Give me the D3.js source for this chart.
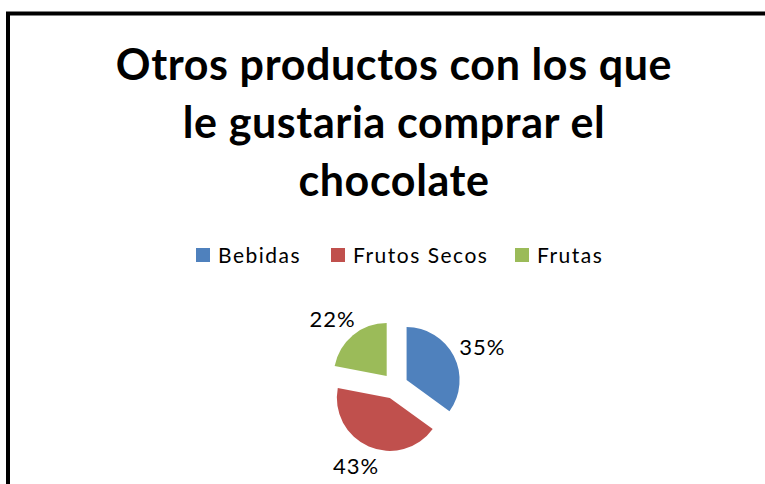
<!DOCTYPE html>
<html>
<head>
<meta charset="utf-8">
<script src="https://cdn.jsdelivr.net/npm/d3@7"></script>
<style>
  html, body { margin: 0; padding: 0; background: #fff; }
  svg { display: block; }
</style>
</head>
<body>
<svg id="chart" width="765" height="484"></svg>
<script>
// Chart data
const titleLines = ["Otros productos con los que", "le gustaria comprar el", "chocolate"];
const categories = ["Bebidas", "Frutos Secos", "Frutas"];
const shares = [35, 43, 22];
const colors = ["#4F81BD", "#C0504D", "#9BBB59"];

const W = 765, H = 484;
const svg = d3.select("#chart");

// Chart area frame (runs off the right and bottom edges)
svg.append("rect")
  .attr("x", 8).attr("y", 13.5)
  .attr("width", W + 20).attr("height", H + 20)
  .attr("fill", "#fff")
  .attr("stroke", "#000")
  .attr("stroke-width", 4);

// Title
const font = "Lato, 'Open Sans', sans-serif";
svg.append("g")
  .selectAll("text")
  .data(titleLines)
  .join("text")
  .attr("x", 394)
  .attr("y", (d, i) => 80 + i * 58)
  .attr("text-anchor", "middle")
  .attr("font-family", font)
  .attr("font-weight", 700)
  .attr("font-size", 43)
  .attr("letter-spacing", 0.6)
  .attr("fill", "#000")
  .text(d => d);

// Legend
const legend = svg.append("g");
const legendX = [196, 331, 515];
const items = legend.selectAll("g")
  .data(categories)
  .join("g")
  .attr("transform", (d, i) => `translate(${legendX[i]},248)`);
items.append("rect")
  .attr("width", 14).attr("height", 14)
  .attr("fill", (d, i) => colors[i]);
items.append("text")
  .attr("x", 22).attr("y", 14.5)
  .attr("font-family", font)
  .attr("font-size", 21)
  .attr("letter-spacing", 1.5)
  .attr("fill", "#000")
  .text(d => d);

// Exploded pie
const cx = 395, cy = 386, r = 53, explode = 13;
const pie = d3.pie().sort(null).startAngle(0).endAngle(2 * Math.PI);
const arcs = pie(shares);
const arc = d3.arc().innerRadius(0).outerRadius(r);

const pieG = svg.append("g").attr("transform", `translate(${cx},${cy})`);
const slice = pieG.selectAll("g.slice")
  .data(arcs)
  .join("g")
  .attr("class", "slice")
  .attr("transform", d => {
    const a = (d.startAngle + d.endAngle) / 2;
    return `translate(${explode * Math.sin(a)},${-explode * Math.cos(a)})`;
  });

slice.append("path")
  .attr("d", arc)
  .attr("fill", (d, i) => colors[i]);

// Percentage labels just outside each slice
const labelR = r + 9;
slice.append("text")
  .attr("font-family", font)
  .attr("font-size", 22)
  .attr("letter-spacing", 1)
  .attr("fill", "#000")
  .attr("dominant-baseline", "central")
  .attr("text-anchor", "middle")
  .text(d => d.data + "%")
  .each(function (d) {
    const a = (d.startAngle + d.endAngle) / 2;
    const ux = Math.sin(a), uy = -Math.cos(a);
    const bb = this.getBBox();
    d3.select(this)
      .attr("x", labelR * ux + ux * bb.width / 2)
      .attr("y", labelR * uy + uy * 12);
  });
</script>
</body>
</html>
